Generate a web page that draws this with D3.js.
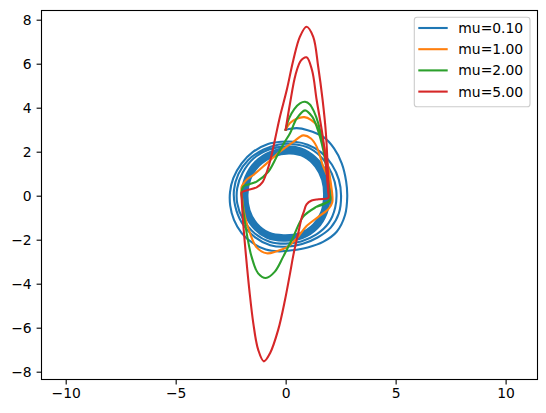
<!DOCTYPE html>
<html>
<head>
<meta charset="utf-8">
<script src="https://cdn.jsdelivr.net/npm/d3@7"></script>
<style>
  body { margin: 0; background: #fff; }
  svg { display: block; }
  text { font-family: "DejaVu Sans", sans-serif; fill: #000; }
</style>
</head>
<body>
<script>
//series labels and colours (matplotlib tab10)
var labels = ["mu=0.10", "mu=1.00", "mu=2.00", "mu=5.00"];
var colors = ["#1f77b4", "#ff7f0e", "#2ca02c", "#d62728"];

//tick values
var xTicks = [-10, -5, 0, 5, 10];
var yTicks = [-8, -6, -4, -2, 0, 2, 4, 6, 8];

//mu=0.1 : spiral from (0,3) winding in towards the limit cycle
var mu01Spiral = [
    [0, 3.0], [0.5, 3.07], [1.0, 2.98], [1.7, 2.68], [2.2, 2.15], [2.55, 1.47], [2.75, 0.65],
    [2.8, -0.05], [2.7, -0.88], [2.32, -1.64], [1.7, -2.1], [1.0, -2.35], [0.3, -2.48],
    [-0.3, -2.53], [-0.9, -2.45], [-1.5, -2.15], [-2.0, -1.7], [-2.35, -1.1], [-2.52, -0.45],
    [-2.53, 0.15], [-2.38, 0.8], [-2.0, 1.47], [-1.5, 1.98], [-0.8, 2.35], [-0.2, 2.45],
    [0.4, 2.45], [1.0, 2.32], [1.6, 1.98], [2.1, 1.42], [2.42, 0.72], [2.52, 0.0],
    [2.42, -0.8], [2.05, -1.45], [1.45, -1.9], [0.75, -2.2], [0.0, -2.32], [-0.7, -2.25],
    [-1.4, -1.88], [-2.0, -1.22], [-2.3, -0.45], [-2.35, 0.25], [-2.15, 0.98], [-1.7, 1.62],
    [-1.0, 2.1], [-0.3, 2.33], [0.4, 2.34], [1.1, 2.15], [1.7, 1.66], [2.1, 1.0],
    [2.3, 0.25], [2.25, -0.55], [1.95, -1.25], [1.4, -1.76], [0.7, -2.08], [0.0, -2.18],
    [-0.7, -2.1], [-1.4, -1.72], [-1.95, -1.05], [-2.2, -0.35], [-2.2, 0.35], [-1.95, 1.05],
    [-1.45, 1.7], [-0.75, 2.1], [0.0, 2.24], [0.7, 2.15], [1.35, 1.75], [1.85, 1.1],
    [2.05, 0.35], [2.05, -0.4]
];
//mu=0.1 : the dense band of loops around the limit cycle (centre line)
var mu01Band = [
    [0.2, 2.04], [0.9, 1.88], [1.45, 1.4], [1.78, 0.75], [1.87, 0.0], [1.75, -0.75],
    [1.35, -1.4], [0.7, -1.82], [-0.1, -1.92], [-0.8, -1.8], [-1.4, -1.35], [-1.76, -0.7],
    [-1.86, 0.05], [-1.72, 0.8], [-1.3, 1.45], [-0.6, 1.9]
];

//mu=1
var mu1 = [
    [0, 3.0], [0.2, 3.3], [0.5, 3.5], [0.85, 3.57], [1.15, 3.45], [1.48, 3.12], [1.71, 2.4],
    [1.88, 1.6], [2.05, 0.6], [2.12, -0.3], [1.95, -0.6], [1.5, -0.95], [0.95, -1.38],
    [0.5, -1.95], [0.05, -2.35], [-0.4, -2.52], [-0.86, -2.62], [-1.32, -2.35], [-1.62, -1.71],
    [-1.85, -0.95], [-1.97, -0.2], [-2.0, 0.4], [-1.75, 0.75], [-1.47, 0.94], [-0.86, 1.47],
    [-0.26, 2.0], [0.35, 2.45], [0.8, 2.74], [1.15, 2.6], [1.41, 2.23], [1.71, 1.32],
    [1.92, 0.85], [2.06, 0.41], [2.12, -0.3], [1.95, -0.6], [1.5, -0.95]
];

//mu=2
var mu2 = [
    [0, 3.0], [0.15, 3.5], [0.4, 3.95], [0.65, 4.2], [0.88, 4.27], [1.1, 4.15], [1.3, 3.8],
    [1.48, 3.3], [1.62, 2.7], [1.75, 2.0], [1.88, 1.0], [1.97, 0.2], [2.01, -0.2],
    [1.41, -0.5], [0.8, -0.95], [0.35, -1.86], [-0.11, -2.77], [-0.49, -3.45], [-0.9, -3.74],
    [-1.25, -3.53], [-1.55, -2.77], [-1.77, -1.71], [-1.93, -0.65], [-2.0, 0.15],
    [-1.93, 0.41], [-1.32, 0.64], [-0.79, 1.09], [-0.41, 1.77], [-0.1, 2.35], [0.2, 2.84],
    [0.5, 3.5], [0.88, 3.88], [1.2, 3.6], [1.41, 3.14], [1.71, 2.08], [1.9, 0.9],
    [2.0, 0.1], [2.01, -0.2], [1.41, -0.5]
];

//mu=5
var mu5 = [
    [0, 3.0], [0.2, 4.2], [0.45, 5.5], [0.7, 6.15], [0.95, 6.29], [1.2, 5.7], [1.41, 4.35],
    [1.71, 2.53], [1.85, 1.2], [1.93, 0.2], [1.94, -0.1], [1.5, -0.16], [1.18, -0.22],
    [0.95, -0.4], [0.82, -0.75], [0.73, -1.0], [0.57, -1.71], [0.35, -2.7], [0.2, -3.53],
    [-0.03, -4.74], [-0.34, -6.1], [-0.71, -7.16], [-0.99, -7.53], [-1.25, -7.0],
    [-1.47, -5.8], [-1.65, -4.29], [-1.8, -2.77], [-1.93, -1.25], [-2.0, -0.05], [-2.0, 0.15],
    [-1.75, 0.25], [-1.32, 0.38], [-1.05, 0.62], [-0.85, 1.1], [-0.7, 1.6], [-0.49, 2.53],
    [-0.26, 3.59], [0.05, 4.8], [0.35, 6.17], [0.65, 7.23], [0.95, 7.68], [1.25, 7.23],
    [1.48, 5.86], [1.68, 4.35], [1.83, 2.84], [1.91, 1.32], [1.95, 0.1], [1.94, -0.1],
    [1.5, -0.16]
];

var series = [mu01Spiral, mu1, mu2, mu5];

(function(){
    //figure size and axes box
    var width = 546, height = 413;
    var axLeft = 41.5, axRight = 537.5, axTop = 10.5, axBottom = 379.5;

    var svg = d3.select("body").append("svg")
        .attr("width", width)
        .attr("height", height);

    var x = d3.scaleLinear().domain([-11.1, 11.45]).range([axLeft, axRight]);
    var y = d3.scaleLinear().domain([-8.355, 8.418]).range([axBottom, axTop]);

    var fmt = function(d){ return String(d).replace("-", "\u2212"); };

    //axes
    var xAxis = svg.append("g")
        .attr("transform", "translate(0," + axBottom + ")")
        .call(d3.axisBottom(x).tickValues(xTicks).tickFormat(fmt)
            .tickSize(4.9).tickSizeOuter(0).tickPadding(4.2));
    var yAxis = svg.append("g")
        .attr("transform", "translate(" + axLeft + ",0)")
        .call(d3.axisLeft(y).tickValues(yTicks).tickFormat(fmt)
            .tickSize(4.9).tickSizeOuter(0).tickPadding(4.9));
    [xAxis, yAxis].forEach(function(g){
        g.select(".domain").remove();
        g.selectAll(".tick line").attr("stroke", "#000").attr("stroke-width", 1.1);
        g.selectAll(".tick text")
            .style("font-family", "'DejaVu Sans', sans-serif")
            .style("font-size", "13.9px")
            .attr("fill", "#000");
    });

    //clip lines to the axes box
    svg.append("clipPath").attr("id", "clip")
        .append("rect")
        .attr("x", axLeft).attr("y", axTop)
        .attr("width", axRight - axLeft).attr("height", axBottom - axTop);

    var plot = svg.append("g").attr("clip-path", "url(#clip)");

    var line = d3.line()
        .x(function(d){ return x(d[0]); })
        .y(function(d){ return y(d[1]); })
        .curve(d3.curveCatmullRom.alpha(0.5));

    var loop = d3.line()
        .x(function(d){ return x(d[0]); })
        .y(function(d){ return y(d[1]); })
        .curve(d3.curveCatmullRomClosed.alpha(0.5));

    series.forEach(function(data, i){
        if (i === 0){
            plot.append("path")
                .datum(mu01Band)
                .attr("d", loop)
                .attr("fill", "none")
                .attr("stroke", colors[0])
                .attr("stroke-width", 7.5);
        }
        plot.append("path")
            .datum(data)
            .attr("d", line)
            .attr("fill", "none")
            .attr("stroke", colors[i])
            .attr("stroke-width", 2.1)
            .attr("stroke-linejoin", "round")
            .attr("stroke-linecap", "square");
    });

    //frame
    svg.append("rect")
        .attr("x", axLeft).attr("y", axTop)
        .attr("width", axRight - axLeft).attr("height", axBottom - axTop)
        .attr("fill", "none")
        .attr("stroke", "#000")
        .attr("stroke-width", 1.1);

    //legend
    var legend = svg.append("g");
    legend.append("rect")
        .attr("x", 414.3).attr("y", 17.3)
        .attr("width", 115.7).attr("height", 89.4)
        .attr("rx", 2.8)
        .attr("fill", "#fff").attr("fill-opacity", 0.8)
        .attr("stroke", "#cccccc").attr("stroke-width", 1.1);

    labels.forEach(function(lab, i){
        var ly = 28 + i * 21.2;
        legend.append("line")
            .attr("x1", 418.3).attr("x2", 447.7)
            .attr("y1", ly).attr("y2", ly)
            .attr("stroke", colors[i])
            .attr("stroke-width", 2.1);
        legend.append("text")
            .attr("x", 458.3).attr("y", ly)
            .attr("dy", "0.36em")
            .style("font-size", "13.9px")
            .text(lab);
    });
})();
</script>
</body>
</html>
